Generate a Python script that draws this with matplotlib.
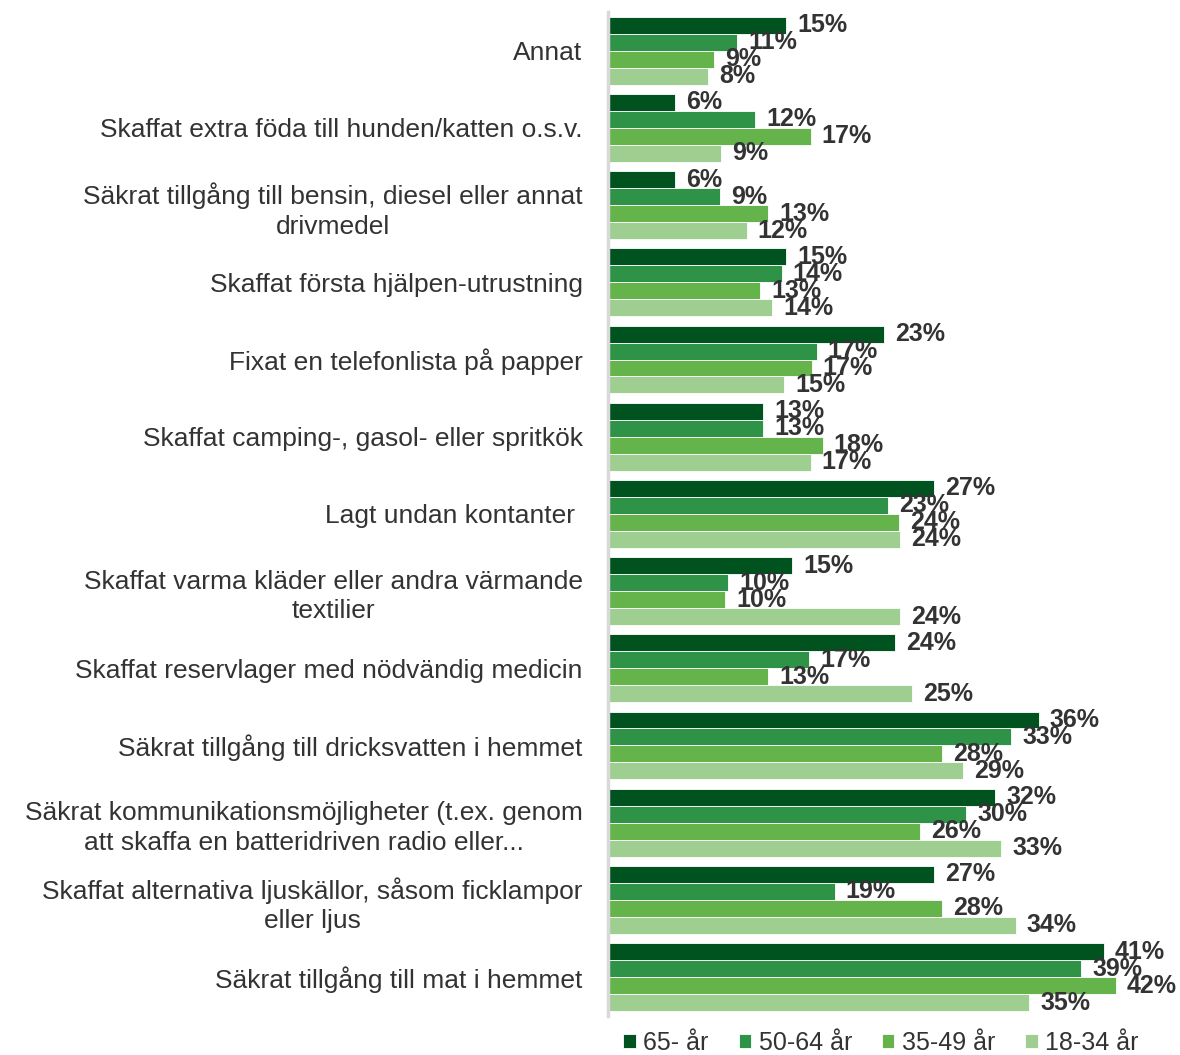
import numpy as np
import matplotlib.pyplot as plt

plt.rcParams['font.family'] = ['Liberation Sans', 'DejaVu Sans']

categories = [
    "Annat",
    "Skaffat extra föda till hunden/katten o.s.v.",
    "Säkrat tillgång till bensin, diesel eller annat\ndrivmedel",
    "Skaffat första hjälpen-utrustning",
    "Fixat en telefonlista på papper",
    "Skaffat camping-, gasol- eller spritkök",
    "Lagt undan kontanter ",
    "Skaffat varma kläder eller andra värmande\ntextilier",
    "Skaffat reservlager med nödvändig medicin",
    "Säkrat tillgång till dricksvatten i hemmet",
    "Säkrat kommunikationsmöjligheter (t.ex. genom\natt skaffa en batteridriven radio eller...",
    "Skaffat alternativa ljuskällor, såsom ficklampor\neller ljus",
    "Säkrat tillgång till mat i hemmet",
]

series = ["65- år", "50-64 år", "35-49 år", "18-34 år"]
age_65 = [14.8, 5.6, 5.6, 14.8, 22.9, 12.9, 27.0, 15.3, 23.8, 35.7, 32.1, 27.0, 41.1]
age_50 = [10.7, 12.2, 9.3, 14.4, 17.3, 12.9, 23.2, 10.0, 16.7, 33.4, 29.7, 18.8, 39.2]
age_35 = [8.8, 16.8, 13.3, 12.6, 16.9, 17.8, 24.1, 9.7, 13.3, 27.7, 25.9, 27.7, 42.1]
age_18 = [8.3, 9.4, 11.5, 13.6, 14.6, 16.8, 24.2, 24.2, 25.2, 29.4, 32.6, 33.8, 34.9]
colors = ["#00531f", "#2e9347", "#64b44b", "#9ecf90"]

fig = plt.figure(figsize=(11.8, 10.55), dpi=100)
ax = fig.add_axes([0.515, 0.0373, 0.485, 0.9512])

y = np.arange(len(categories))
h = 0.22
for k, (vals, name) in enumerate(zip([age_65, age_50, age_35, age_18], series)):
    pos = y - 0.33 + k * h
    ax.barh(pos, vals, height=h, color=colors[k], label=name,
            edgecolor="white", linewidth=0.6)
    for p, v in zip(pos, vals):
        ax.annotate(f"{v:.0f}%", (v, p), xytext=(8, 0), textcoords="offset points",
                    ha="left", va="center", fontsize=18, fontweight="bold",
                    color="#333333")

ax.set_ylim(12.5, -0.5)
ax.set_xlim(0, 47.4)
ax.set_yticks(y)
ax.set_yticklabels(categories, fontsize=19, color="#333333", linespacing=1.3)
for lab in ax.get_yticklabels():
    lab.set_multialignment("center")
ax.tick_params(axis="y", length=0, pad=18)
ax.set_xticks([])
for s in ["top", "right", "bottom"]:
    ax.spines[s].set_visible(False)
ax.spines["left"].set_color("#d9d9d9")
ax.spines["left"].set_linewidth(2.5)

fig.legend(loc="center", bbox_to_anchor=(881 / 1180, 1 - 1043 / 1055), ncol=4,
           frameon=False, fontsize=18, handlelength=0.5, handleheight=0.5,
           handletextpad=0.3, columnspacing=1.2, labelcolor="#333333")

fig.savefig("out.png", dpi=100)
